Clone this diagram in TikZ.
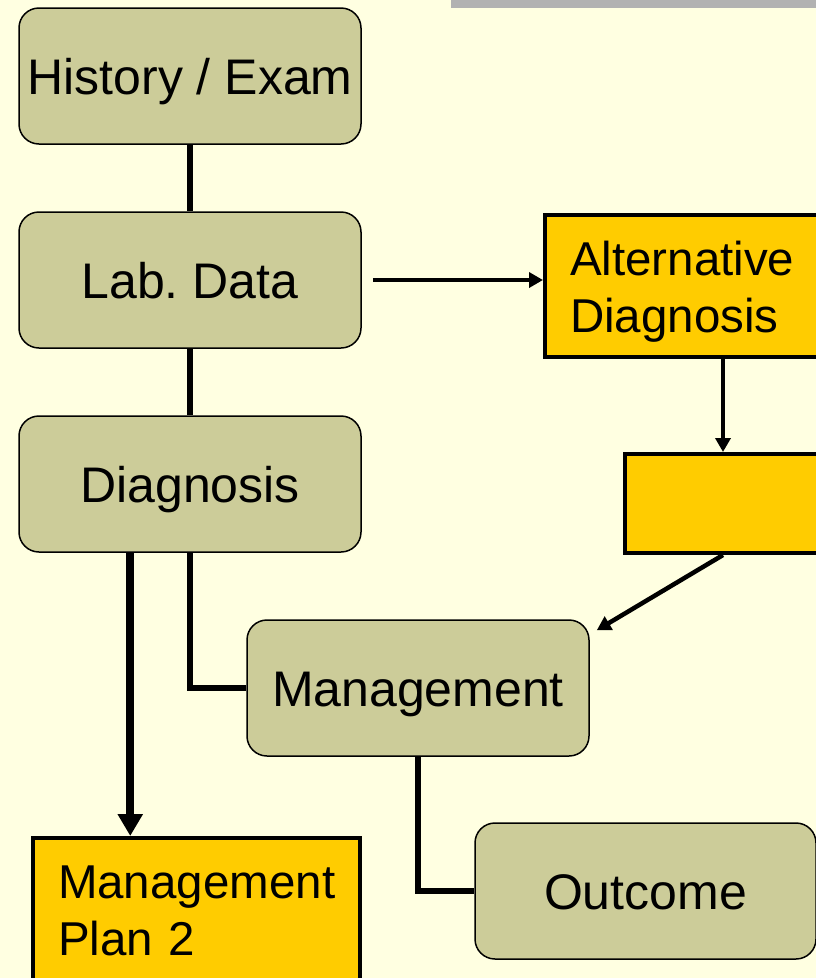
\documentclass[tikz,border=0pt]{standalone}
\usepackage{fontspec}
\setmainfont{Liberation Sans}
\usetikzlibrary{arrows.meta,calc}
\definecolor{bgyellow}{RGB}{255,255,225}
\definecolor{tanfill}{RGB}{204,204,153}
\definecolor{goldfill}{RGB}{255,204,0}
\definecolor{bargray}{RGB}{178,178,178}
\frenchspacing
\begin{document}
\begin{tikzpicture}[x=1pt,y=-1pt,
  boxfont/.style={font=\fontsize{50}{57}\selectfont},
  goldfont/.style={font=\fontsize{47.5}{57}\selectfont},
  tanbox/.style={boxfont,draw=black,line width=1.5pt,fill=tanfill,rounded corners=20pt,
    minimum width=342pt,minimum height=136pt,inner sep=0pt,text height=36pt,text depth=0pt},
  goldbox/.style={goldfont,draw=black,line width=4pt,fill=goldfill,inner ysep=0pt,inner xsep=25pt,align=left},
  link/.style={line width=6pt},
  arrowlink/.style={line width=4.5pt,-{Triangle[length=14pt,width=15pt]}},
  bigarrow/.style={line width=8pt,-{Triangle[length=22pt,width=24pt]}}
]
\fill[bgyellow] (0,0) rectangle (816,978);
\useasboundingbox (0,0) rectangle (816,978);
\clip (0,0) rectangle (816,978);
\fill[bargray] (451,0) rectangle (816,8);

\node[tanbox] (hist) at (190,76) {History / Exam};
\node[tanbox] (lab) at (190,280) {Lab. Data};
\node[tanbox] (diag) at (190,484) {Diagnosis};
\node[tanbox] (mgmt) at (418,688) {Management};
\node[tanbox,minimum width=341pt] (outc) at (645.5,891) {Outcome};

\node[goldbox,text width=306pt,minimum height=142pt] (alt) at (723,286) {\rule{0pt}{46pt}Alternative\\Diagnosis};
\node[goldbox,minimum width=196pt,minimum height=99pt] (empty) at (723,503.5) {};
\node[goldbox,text width=277pt,minimum height=146pt] (plan) at (196.5,911) {Management\\Plan 2};

\draw[link] (hist) -- (lab);
\draw[link] (lab) -- (diag);
\draw[arrowlink,line width=4pt,shorten <=11pt] (lab.east) -- (lab.east -| alt.west);
\draw[arrowlink] (alt) -- (empty);
\coordinate (mtip) at ($(mgmt.north east)+(7,11)$);
\draw[arrowlink] (empty.south) -- (mtip);
\coordinate (dsplit) at ($(diag.south west)+(112,0)$);
\draw[bigarrow] (dsplit) -- (dsplit |- plan.north);
\draw[link] (diag.south) |- (mgmt.west);
\draw[link] (mgmt.south) |- (outc.west);
\end{tikzpicture}
\end{document}
